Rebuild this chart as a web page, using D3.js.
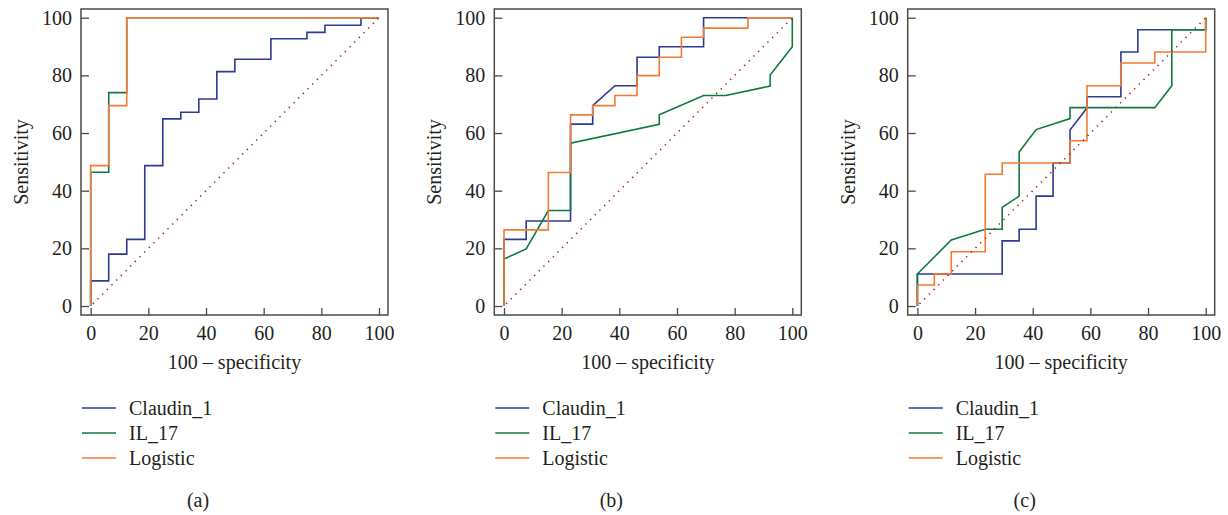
<!DOCTYPE html>
<html>
<head>
<meta charset="utf-8">
<script src="https://cdn.jsdelivr.net/npm/d3@7"></script>
<style>
  html, body { margin: 0; padding: 0; background: #fff; }
  svg text { font-family: "Liberation Serif", "Times New Roman", serif; fill: #231f20; }
</style>
</head>
<body>
<svg id="chart" width="1228" height="515"></svg>
<script>
// ---- Data ----
const panelLabels = ["(a)", "(b)", "(c)"];
const seriesNames = ["Claudin_1", "IL_17", "Logistic"];
const seriesColors = ["#2e3a94", "#0f7a3e", "#f47b33"];
const tickValues = [0, 20, 40, 60, 80, 100];
const xTitle = "100 \u2013 specificity";
const yTitle = "Sensitivity";

// Panel (a)
const aClaudinX = [0,0,6.25,6.25,12.5,12.5,18.75,18.75,25,25,31.25,31.25,37.5,37.5,43.75,43.75,50,50,62.5,62.5,75,75,81.25,81.25,93.75,93.75,100];
const aClaudinY = [0,8.7,8.7,18,18,23.1,23.1,48.7,48.7,64.9,64.9,67.2,67.2,71.8,71.8,81.3,81.3,85.6,85.6,92.7,92.7,94.9,94.9,97.4,97.4,100,100];
const aIL17X = [0,0,6.25,6.25,12.5,12.5,100];
const aIL17Y = [0,46.4,46.4,74,74,100,100];
const aLogisticX = [0,0,6.25,6.25,12.5,12.5,100];
const aLogisticY = [0,48.7,48.7,69.5,69.5,100,100];

// Panel (b)
const bClaudinX = [0,0,7.69,7.69,23.08,23.08,30.77,30.77,38.46,46.15,46.15,53.85,53.85,69.23,69.23,100];
const bClaudinY = [0,23.1,23.1,29.5,29.5,63.1,63.1,69.5,76.4,76.4,86.3,86.3,89.9,89.9,100,100];
const bIL17X = [0,0,7.69,15.38,23.08,23.08,53.85,53.85,69.23,76.92,92.31,92.31,100,100];
const bIL17Y = [0,16.3,19.8,33.1,33.1,56.5,63.0,66.3,73.0,73.0,76.3,80.1,89.9,100];
const bLogisticX = [0,0,15.38,15.38,23.08,23.08,30.77,30.77,38.46,38.46,46.15,46.15,53.85,53.85,61.54,61.54,69.23,69.23,84.62,84.62,100];
const bLogisticY = [0,26.4,26.4,46.3,46.3,66.3,66.3,69.5,69.5,73.0,73.0,79.9,79.9,86.3,86.3,93.2,93.2,96.4,96.4,100,100];

// Panel (c)
const cClaudinX = [0,0,29.41,29.41,35.29,35.29,41.18,41.18,47.06,47.06,52.94,52.94,58.82,58.82,70.59,70.59,76.47,76.47,100,100];
const cClaudinY = [0,11.1,11.1,22.6,22.6,26.6,26.6,38.1,38.1,49.6,49.6,61.0,68.7,72.6,72.6,88.1,88.1,95.8,95.8,100];
const cIL17X = [0,0,11.76,23.53,29.41,29.41,35.29,35.29,41.18,52.94,52.94,82.35,88.24,88.24,100,100];
const cIL17Y = [0,11.1,22.9,26.6,26.6,34.2,38.1,53.4,61.2,65.0,68.8,68.8,76.4,95.8,95.8,100];
const cLogisticX = [0,0,5.88,5.88,11.76,11.76,23.53,23.53,29.41,29.41,52.94,52.94,58.82,58.82,70.59,70.59,82.35,82.35,100,100];
const cLogisticY = [0,7.3,7.3,11.1,11.1,18.8,18.8,45.7,45.7,49.6,49.6,57.3,57.3,76.4,76.4,84.3,84.3,88.1,88.1,100];

const zip = (xs, ys) => xs.map((x, i) => [x, ys[i]]);
const panels = [
  [zip(aClaudinX, aClaudinY), zip(aIL17X, aIL17Y), zip(aLogisticX, aLogisticY)],
  [zip(bClaudinX, bClaudinY), zip(bIL17X, bIL17Y), zip(bLogisticX, bLogisticY)],
  [zip(cClaudinX, cClaudinY), zip(cIL17X, cIL17Y), zip(cLogisticX, cLogisticY)]
];

// ---- Layout ----
const svg = d3.select("#chart");
const panelOffsets = [0, 413.3, 826.7];
const frameL = 81, frameR = 388, frameT = 9, frameB = 315;
const padL = 9.7, padR = 9, padT = 8.7, padB = 9;
const fontSize = 20;
const axisColor = "#4a4a4a";

panels.forEach((series, pi) => {
  const g = svg.append("g").attr("transform", `translate(${panelOffsets[pi]},0)`);
  const x = d3.scaleLinear().domain([0, 100]).range([frameL + padL, frameR - padR]);
  const y = d3.scaleLinear().domain([0, 100]).range([frameB - padB, frameT + padT]);

  // frame
  g.append("rect")
    .attr("x", frameL).attr("y", frameT)
    .attr("width", frameR - frameL).attr("height", frameB - frameT)
    .attr("fill", "none").attr("stroke", axisColor).attr("stroke-width", 1.5);

  // x axis (ticks inward)
  const xAxis = g.append("g").attr("transform", `translate(0,${frameB})`)
    .call(d3.axisBottom(x).tickValues(tickValues).tickSizeInner(-7).tickSizeOuter(0).tickPadding(11));
  xAxis.select(".domain").remove();
  xAxis.selectAll(".tick line").attr("stroke", axisColor).attr("stroke-width", 1.3);
  xAxis.selectAll(".tick text").attr("font-size", fontSize)
    .attr("font-family", "Liberation Serif").attr("fill", "#231f20");

  // y axis (ticks inward)
  const yAxis = g.append("g").attr("transform", `translate(${frameL},0)`)
    .call(d3.axisLeft(y).tickValues(tickValues).tickSizeInner(-8).tickSizeOuter(0).tickPadding(9));
  yAxis.select(".domain").remove();
  yAxis.selectAll(".tick line").attr("stroke", axisColor).attr("stroke-width", 1.3);
  yAxis.selectAll(".tick text").attr("font-size", fontSize)
    .attr("font-family", "Liberation Serif").attr("fill", "#231f20");

  // axis titles
  g.append("text").attr("x", (frameL + frameR) / 2).attr("y", 369)
    .attr("text-anchor", "middle").attr("font-size", fontSize).text(xTitle);
  g.append("text").attr("transform", `translate(28,${(frameT + frameB) / 2}) rotate(-90)`)
    .attr("text-anchor", "middle").attr("font-size", fontSize).text(yTitle);

  // curves
  const line = d3.line().x(d => x(d[0])).y(d => y(d[1]));
  series.forEach((pts, si) => {
    g.append("path").datum(pts)
      .attr("d", line)
      .attr("fill", "none")
      .attr("stroke", seriesColors[si])
      .attr("stroke-width", 1.6)
      .attr("stroke-linejoin", "miter");
  });

  // reference diagonal
  g.append("path").datum([[0, 0], [100, 100]])
    .attr("d", line)
    .attr("fill", "none")
    .attr("stroke", "#b3202e")
    .attr("stroke-width", 1.5)
    .attr("stroke-dasharray", "1.4 5.2")
    .attr("stroke-dashoffset", -3);

  // legend
  seriesNames.forEach((name, si) => {
    const ly = 408 + si * 25;
    g.append("line").attr("x1", frameL + 1).attr("x2", frameL + 35)
      .attr("y1", ly).attr("y2", ly)
      .attr("stroke", seriesColors[si]).attr("stroke-width", 1.5);
    g.append("text").attr("x", frameL + 48).attr("y", ly + 7)
      .attr("font-size", fontSize).text(name);
  });

  // caption
  g.append("text").attr("x", 198).attr("y", 507)
    .attr("text-anchor", "middle").attr("font-size", fontSize).text(panelLabels[pi]);
});
</script>
</body>
</html>
